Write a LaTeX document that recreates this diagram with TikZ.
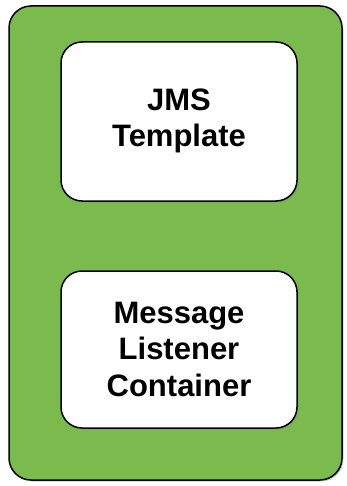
\documentclass[tikz,border=0pt]{standalone}
\usepackage{fontspec}
\setmainfont{Liberation Sans}
\usetikzlibrary{shadows}
\definecolor{panelgreen}{RGB}{123,187,77}
\begin{document}
\begin{tikzpicture}[x=1pt,y=-1pt,
  panel/.style={draw=black,line width=1.5pt,fill=panelgreen,rounded corners=22pt,
    drop shadow={shadow xshift=1.5pt,shadow yshift=-1.5pt,opacity=0.35}},
  compbox/.style={draw=black,line width=1.5pt,fill=white,rounded corners=21pt,
    drop shadow={shadow xshift=1.5pt,shadow yshift=-1.5pt,opacity=0.35}},
  lbl/.style={font=\fontsize{31}{36.5}\selectfont\bfseries,align=center,text=black}]
\useasboundingbox (0,0) rectangle (346,486);
\draw[panel] (9,6) rectangle (342,480);
\draw[compbox] (61,42) rectangle (297,201);
\draw[compbox] (61,271) rectangle (297,428);
\node[lbl] (jms) at (179,121) {JMS\\Template};
\node[lbl] (mlc) at (179,349) {Message\\Listener\\Container};
\end{tikzpicture}
\end{document}
